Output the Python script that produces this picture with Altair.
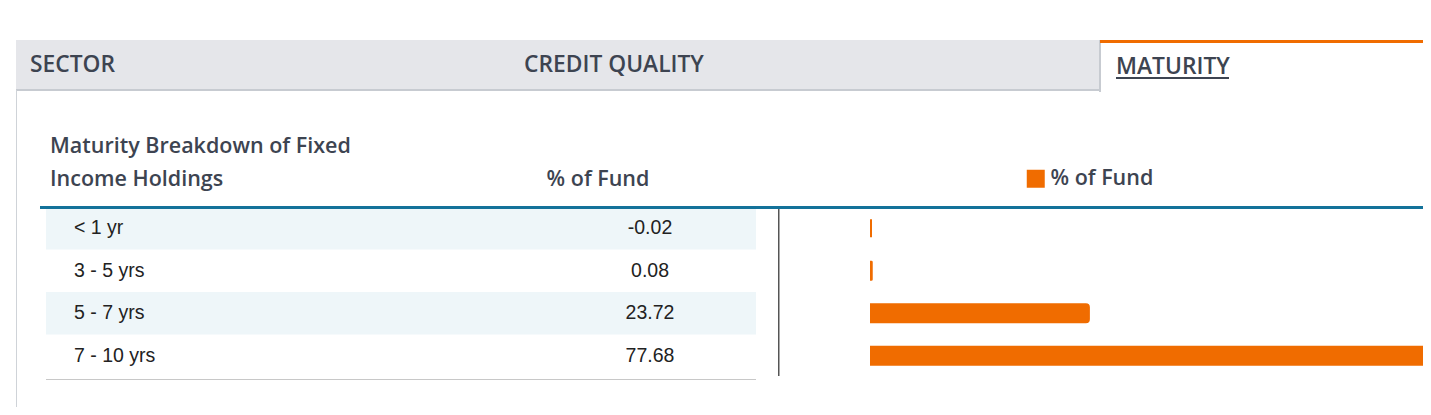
import altair as alt
import pandas as pd

# ---- data ----
categories = ["< 1 yr", "3 - 5 yrs", "5 - 7 yrs", "7 - 10 yrs"]
values = [-0.02, 0.08, 23.72, 77.68]
value_labels = ["-0.02", "0.08", "23.72", "77.68"]
shaded = [True, False, True, False]
series_name = "% of Fund"
tabs = ["SECTOR", "CREDIT QUALITY", "MATURITY"]
table_title = ["Maturity Breakdown of Fixed", "Income Holdings"]
column_title = "% of Fund"

df = pd.DataFrame({
    "cat": categories,
    "value": values,
    "label": value_labels,
    "shade": shaded,
    "series": [series_name] * len(categories),
})
one = pd.DataFrame({"a": [0]})

ORANGE = "#f06c00"
DARK = "#3d4451"
HFONT = "Open Sans"
TFONT = "Liberation Sans"
OX, OY = 8, 8  # page margin offset
W = 1415


def rect(x, x2, y, y2, color):
    return alt.Chart(one).mark_rect(color=color).encode(
        x=alt.value(x - OX), x2=alt.value(x2 - OX),
        y=alt.value(y - OY), y2=alt.value(y2 - OY))


def txt(s, x, y, size, weight, color=DARK, font=HFONT, align="left"):
    return alt.Chart(one).mark_text(
        text=s, align=align, baseline="middle", fontSize=size,
        fontWeight=weight, color=color, font=font).encode(
        x=alt.value(x - OX), y=alt.value(y - OY))


yenc = alt.Y("cat:N", sort=categories, axis=None,
             scale=alt.Scale(range=[207 - OY, 377 - OY], paddingInner=0, paddingOuter=0))

base = alt.Chart(df)

row_bg = base.transform_filter("datum.shade").mark_rect(color="#eef6f9").encode(
    y=yenc, x=alt.value(46 - OX), x2=alt.value(756 - OX))

row_labels = base.mark_text(align="left", baseline="middle", fontSize=19.5,
                            font=TFONT, color="#222222").encode(
    y=yenc, x=alt.value(74 - OX), text="cat:N")

row_values = base.mark_text(align="center", baseline="middle", fontSize=19.5,
                            font=TFONT, color="#222222").encode(
    y=yenc, x=alt.value(650 - OX), text="label:N")

bars = base.mark_bar(size=18, cornerRadiusEnd=3, strokeWidth=2, stroke=ORANGE).encode(
    y=yenc,
    x=alt.X("value:Q", axis=None, stack=None,
            scale=alt.Scale(domain=[0, 61.4], range=[871 - OX, 871 - OX + 564], clamp=True)),
    color=alt.Color("series:N", scale=alt.Scale(range=[ORANGE]),
                    legend=alt.Legend(orient="none", legendX=1025 - OX, legendY=168 - OY,
                                      title=None, symbolType="square", symbolSize=324,
                                      symbolStrokeWidth=0, labelFont=HFONT, labelFontSize=21.5,
                                      labelFontWeight=600, labelColor=DARK, labelOffset=4,
                                      padding=0)),
)

layers = [
    # tab bar
    rect(16, 1100, 40, 90, "#e5e6ea"),
    rect(16, 1100, 89, 91, "#c7cbd1"),
    rect(1099, 1101, 40, 92, "#c7cbd1"),
    rect(1100, 1431, 40, 43, ORANGE),
    rect(16, 17, 90, 415, "#cfd3d8"),
    txt(tabs[0], 30, 65, 22.8, 600),
    txt(tabs[1], 524, 65, 22.8, 600),
    txt(tabs[2], 1116, 67, 22.8, 600),
    rect(1116, 1229, 77, 79, DARK),
    # table header
    txt(table_title[0], 50, 147, 21.5, 600),
    txt(table_title[1], 50, 180, 21.5, 600),
    txt(column_title, 598, 180, 21.5, 600, align="center"),
    row_bg,
    rect(40, 1431, 206, 209, "#13729a"),
    rect(46, 756, 379, 380, "#c8c8c8"),
    rect(778, 779.5, 209, 376, "#555555"),
    row_labels,
    row_values,
    bars,
]

chart = alt.layer(*layers).properties(
    width=W, height=399, padding=0,
    autosize=alt.AutoSizeParams(type="fit", contains="padding"),
).configure_view(stroke=None)

chart.save("out.html", embed_options={"renderer": "svg", "actions": False})
